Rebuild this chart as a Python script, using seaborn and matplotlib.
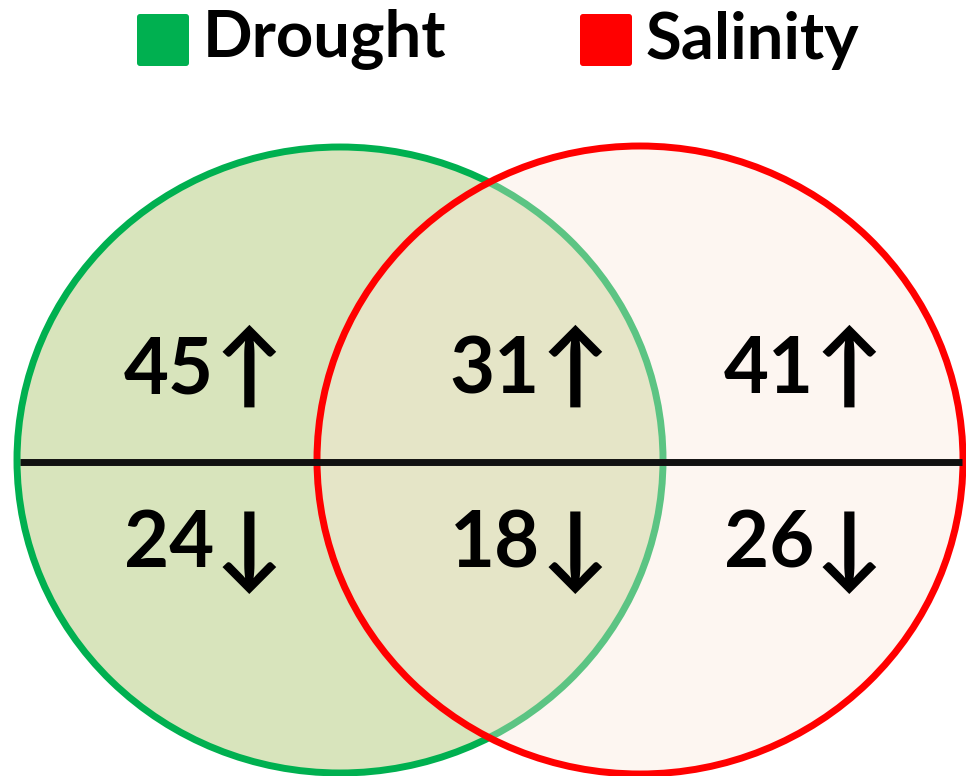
"""Venn diagram of up/down regulated genes under drought and salinity."""

import matplotlib

matplotlib.use("Agg")
import matplotlib.pyplot as plt
import seaborn as sns
from matplotlib.patches import Ellipse, FancyBboxPatch

# data
sets = ["Drought", "Salinity"]
set_colors = ["#00B050", "#FF0000"]
regions = ["Drought only", "Both", "Salinity only"]
up_counts = [45, 31, 41]
down_counts = [24, 18, 26]

GREEN_FILL = "#D8E4BC"
RED_FILL = (0.99, 0.91, 0.86, 0.37)

sns.set_theme(style="white")
plt.rcParams["font.family"] = ["Lato", "DejaVu Sans"]

fig = plt.figure(figsize=(9.66, 7.76), dpi=100)
ax = fig.add_axes([0, 0, 1, 1])
ax.set_xlim(0, 966)
ax.set_ylim(776, 0)
ax.axis("off")

# circles (pixel layout)
ax.add_patch(Ellipse((340, 460), 646, 626, facecolor=GREEN_FILL,
                     edgecolor=set_colors[0], linewidth=5, zorder=1))
ax.add_patch(Ellipse((640, 460), 646, 628, facecolor=RED_FILL,
                     edgecolor="none", zorder=2))
ax.add_patch(Ellipse((640, 460), 646, 628, facecolor="none",
                     edgecolor=set_colors[1], linewidth=5, zorder=3))

# divider
ax.plot([20, 962], [462, 462], color="#111111", linewidth=5, zorder=4,
        solid_capstyle="butt")

# counts: number then arrow
x_centres = [196, 522, 796]
for x, up, down in zip(x_centres, up_counts, down_counts):
    ax.text(x + 18, 371, str(up), ha="right", va="center", fontsize=56,
            fontweight="bold", color="black", zorder=5)
    ax.text(x + 19, 371, "\u2191", ha="left", va="center", fontsize=66,
            fontweight="bold", color="black", zorder=5)
    ax.text(x + 18, 545, str(down), ha="right", va="center", fontsize=56,
            fontweight="bold", color="black", zorder=5)
    ax.text(x + 19, 552, "\u2193", ha="left", va="center", fontsize=66,
            fontweight="bold", color="black", zorder=5)

# legend
legend_x = [135, 578]
for lx, name, col in zip(legend_x, sets, set_colors):
    ax.add_patch(FancyBboxPatch((lx + 2, 14), 52, 52,
                                boxstyle="round,pad=0,rounding_size=3",
                                facecolor=col, edgecolor="none"))
    ax.text(lx + 68, 40, name, ha="left", va="center", fontsize=47,
            fontweight="bold", color="black")

fig.savefig("out.png", dpi=100)
plt.close(fig)
